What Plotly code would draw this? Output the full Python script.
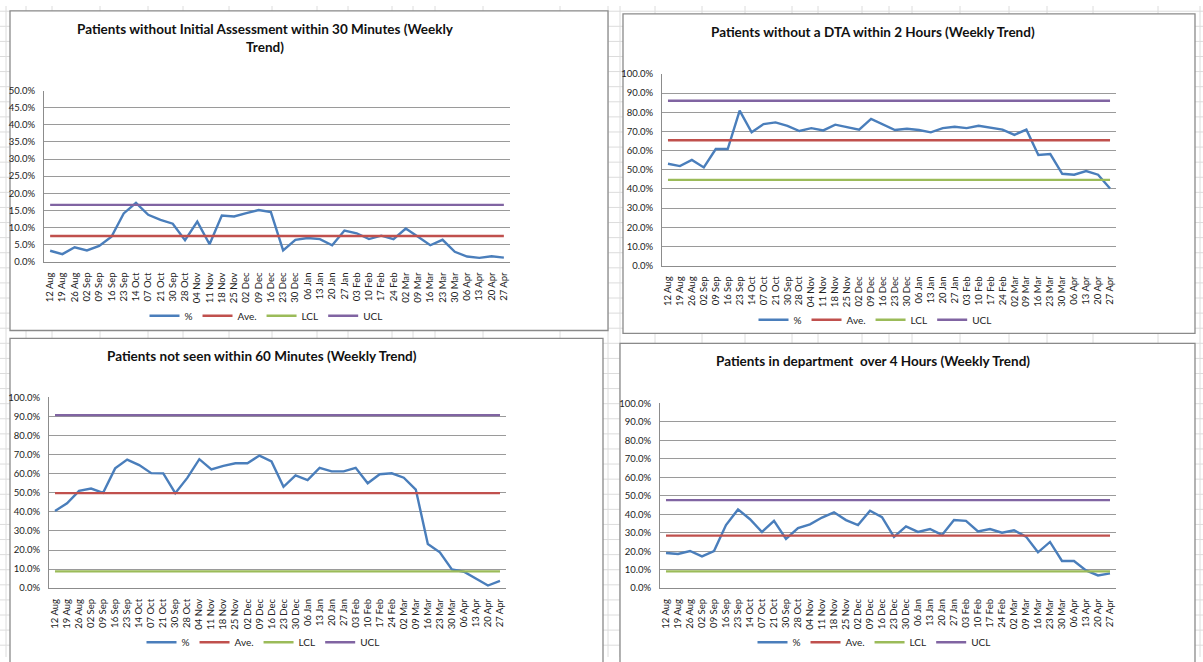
import plotly.graph_objects as go

W, H = 1203, 662

# ---------------- data ----------------
categories = ["12 Aug", "19 Aug", "26 Aug", "02 Sep", "09 Sep", "16 Sep", "23 Sep", "14 Oct",
              "07 Oct", "21 Oct", "30 Sep", "28 Oct", "04 Nov", "11 Nov", "18 Nov", "25 Nov",
              "02 Dec", "09 Dec", "16 Dec", "23 Dec", "30 Dec", "06 Jan", "13 Jan", "20 Jan",
              "27 Jan", "03 Feb", "10 Feb", "17 Feb", "24 Feb", "02 Mar", "09 Mar", "16 Mar",
              "23 Mar", "30 Mar", "06 Apr", "13 Apr", "20 Apr", "27 Apr"]

initial_pct = [0.032, 0.022, 0.042, 0.033, 0.046, 0.073, 0.141, 0.172, 0.137, 0.122,
               0.111, 0.063, 0.117, 0.051, 0.135, 0.132, 0.142, 0.151, 0.145, 0.033,
               0.064, 0.069, 0.066, 0.048, 0.091, 0.083, 0.066, 0.076, 0.066, 0.097,
               0.073, 0.048, 0.064, 0.029, 0.015, 0.011, 0.016, 0.012]
initial_ave, initial_lcl, initial_ucl = 0.075, -0.016, 0.166

dta_pct = [0.531, 0.519, 0.551, 0.512, 0.608, 0.608, 0.808, 0.695, 0.738, 0.747,
           0.729, 0.702, 0.717, 0.705, 0.735, 0.723, 0.709, 0.765, 0.738, 0.707,
           0.714, 0.707, 0.695, 0.717, 0.724, 0.717, 0.729, 0.719, 0.709, 0.682,
           0.709, 0.577, 0.582, 0.479, 0.474, 0.493, 0.474, 0.402]
dta_ave, dta_lcl, dta_ucl = 0.654, 0.447, 0.860

seen_pct = [0.405, 0.445, 0.510, 0.522, 0.500, 0.628, 0.674, 0.645, 0.603, 0.602,
            0.498, 0.578, 0.676, 0.622, 0.641, 0.655, 0.655, 0.695, 0.664, 0.531,
            0.591, 0.567, 0.631, 0.612, 0.612, 0.631, 0.550, 0.597, 0.602, 0.579,
            0.517, 0.231, 0.188, 0.098, 0.086, 0.050, 0.014, 0.038]
seen_ave, seen_lcl, seen_ucl = 0.498, 0.088, 0.907

over4_pct = [0.190, 0.185, 0.201, 0.172, 0.201, 0.341, 0.426, 0.373, 0.304, 0.364,
             0.266, 0.325, 0.345, 0.382, 0.410, 0.368, 0.341, 0.419, 0.384, 0.277,
             0.334, 0.304, 0.320, 0.288, 0.369, 0.364, 0.307, 0.320, 0.300, 0.313,
             0.279, 0.194, 0.250, 0.147, 0.147, 0.096, 0.069, 0.080]
over4_ave, over4_lcl, over4_ucl = 0.284, 0.091, 0.476

titles = [
    "Patients without Initial Assessment within 30 Minutes (Weekly<br>Trend)",
    "Patients without a DTA within 2 Hours (Weekly Trend)",
    "Patients not seen within 60 Minutes (Weekly Trend)",
    "Patients in department  over 4 Hours (Weekly Trend)",
]
series_names = ["%", "Ave.", "LCL", "UCL"]

# ---------------- styling / layout ----------------
COLORS = ["#4A7EBB", "#C0504D", "#9BBB59", "#8064A2"]
FONT = "Lato, 'Open Sans', Arial, sans-serif"


def px_x(v):
    return v / W


def px_y(v):
    return 1 - v / H


charts = [
    dict(pct=initial_pct, ave=initial_ave, lcl=initial_lcl, ucl=initial_ucl, ymax=0.5, dtick=0.05,
         plot=(44, 510, 86, 260), box=(10, 608, 5, 330), title=(265, 33), legend=(266, 315)),
    dict(pct=dta_pct, ave=dta_ave, lcl=dta_lcl, ucl=dta_ucl, ymax=1.0, dtick=0.1,
         plot=(662, 1116, 69, 264), box=(623, 1195, 8, 333), title=(873, 26), legend=(875, 319)),
    dict(pct=seen_pct, ave=seen_ave, lcl=seen_lcl, ucl=seen_ucl, ymax=1.0, dtick=0.1,
         plot=(49, 506, 398, 592), box=(10, 603, 338, 700), title=(262, 356), legend=(263, 647)),
    dict(pct=over4_pct, ave=over4_ave, lcl=over4_lcl, ucl=over4_ucl, ymax=1.0, dtick=0.1,
         plot=(660, 1116, 404, 592), box=(620, 1195, 343, 700), title=(873, 361), legend=(874, 647)),
]

fig = go.Figure()
shapes = []
annotations = []
layout_axes = {}

# Excel sheet grid in the background
col_x = [6, 26, 52, 100, 148, 183, 229, 272, 317, 348, 392, 413, 435, 483, 560, 608, 620,
         655, 702, 745, 792, 818, 862, 889, 912, 960, 1009, 1047, 1093, 1158, 1200]
for cx in col_x:
    shapes.append(dict(type="line", xref="paper", yref="paper", x0=px_x(cx), x1=px_x(cx),
                       y0=0, y1=1, line=dict(color="#dcdcdc", width=1), layer="below"))
ry = 5.3
while ry < H:
    shapes.append(dict(type="line", xref="paper", yref="paper", x0=0, x1=1,
                       y0=px_y(ry), y1=px_y(ry), line=dict(color="#dcdcdc", width=1), layer="below"))
    ry += 15.35

for i, c in enumerate(charts):
    n = "" if i == 0 else str(i + 1)
    xa, ya = "x" + n, "y" + n
    leg = "legend" + n
    x0, x1, y0, y1 = c["plot"]
    bx0, bx1, by0, by1 = c["box"]
    shapes.append(dict(type="rect", xref="paper", yref="paper",
                       x0=px_x(bx0), x1=px_x(bx1), y0=px_y(by1), y1=px_y(by0),
                       fillcolor="white", line=dict(color="#8a8a8a", width=1.3), layer="below"))
    values = [c["pct"], [c["ave"]] * len(categories), [c["lcl"]] * len(categories),
              [c["ucl"]] * len(categories)]
    for name, vals, col in zip(series_names, values, COLORS):
        fig.add_trace(go.Scatter(x=categories, y=vals, mode="lines", name=name,
                                 line=dict(color=col, width=2.4), xaxis=xa, yaxis=ya,
                                 legend=leg, hoverinfo="x+y+name"))
    layout_axes["xaxis" + n] = dict(
        domain=[px_x(x0), px_x(x1)], anchor=ya, type="category", range=[-0.5, len(categories) - 0.5],
        tickmode="linear", tick0=0, dtick=1,
        tickangle=-90, showgrid=False, showline=True, linecolor="#8c8c8c", linewidth=1,
        ticks="", tickfont=dict(family=FONT, size=9.5, color="#222"), ticklabelstandoff=6,
        fixedrange=True)
    layout_axes["yaxis" + n] = dict(
        domain=[px_y(y1), px_y(y0)], anchor=xa, range=[0, c["ymax"]], dtick=c["dtick"],
        tick0=0, tickformat=".1%", showgrid=True, gridcolor="#9a9a9a", gridwidth=1,
        showline=True, linecolor="#8c8c8c", linewidth=1, zeroline=False, ticks="",
        tickfont=dict(family=FONT, size=9.5, color="#222"), ticklabelstandoff=6, fixedrange=True)
    layout_axes[leg] = dict(orientation="h", x=px_x(c["legend"][0]), y=px_y(c["legend"][1]),
                            xanchor="center", yanchor="middle", bgcolor="rgba(0,0,0,0)",
                            font=dict(family=FONT, size=10, color="#222"), itemwidth=30,
                            tracegroupgap=0)
    annotations.append(dict(text="<b>" + titles[i] + "</b>", xref="paper", yref="paper",
                            x=px_x(c["title"][0]), y=px_y(c["title"][1]), xanchor="center",
                            yanchor="middle", showarrow=False,
                            font=dict(family=FONT, size=13.5, color="#111")))

fig.update_layout(
    width=W, height=H, margin=dict(l=0, r=0, t=0, b=0),
    paper_bgcolor="white", plot_bgcolor="rgba(0,0,0,0)",
    shapes=shapes, annotations=annotations, showlegend=True,
    **layout_axes,
)

fig.write_html(
    "out.html",
    config={"displayModeBar": False},
    post_script="document.body.style.margin='0';document.body.style.padding='0';"
                "document.body.style.overflow='hidden';",
)
